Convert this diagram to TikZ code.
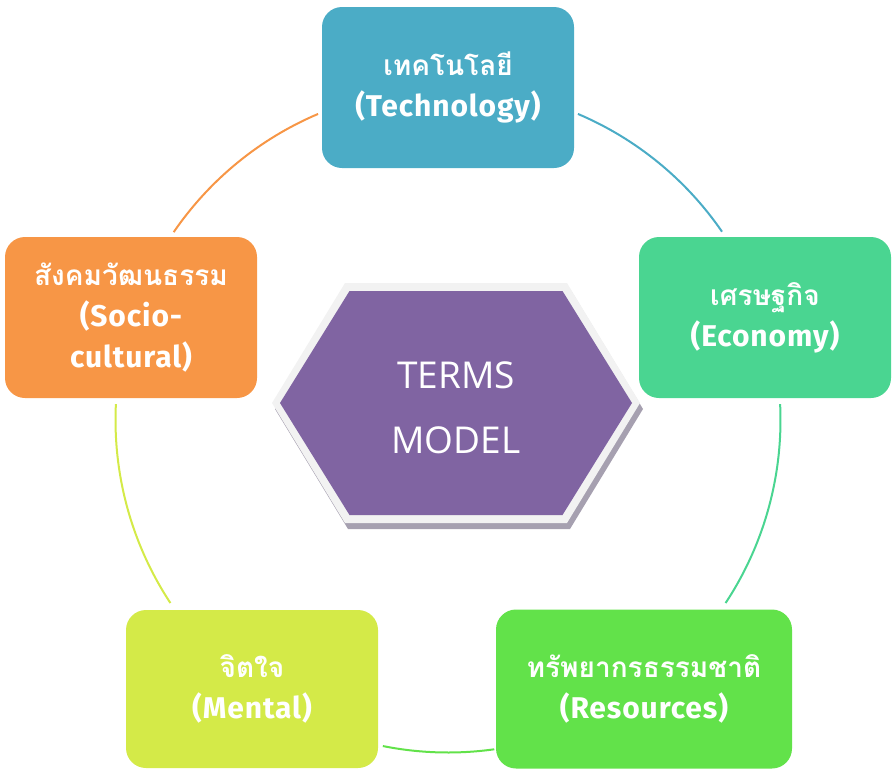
\documentclass[tikz,border=0pt]{standalone}
\usepackage{fontspec}
\usetikzlibrary{calc}
\newfontfamily\thaifont[Script=Thai]{Loma}
\newfontfamily\latfont[LetterSpace=3]{Fira Sans}
\newfontfamily\ctrfont{Open Sans}
\definecolor{ctech}{RGB}{75,172,198}
\definecolor{cecon}{RGB}{74,213,145}
\definecolor{cres}{RGB}{98,226,74}
\definecolor{cment}{RGB}{212,234,72}
\definecolor{csoc}{RGB}{247,150,70}
\definecolor{cpurple}{RGB}{128,100,162}
\definecolor{cband}{RGB}{242,242,242}
\definecolor{cshadow}{RGB}{166,160,176}
\newcommand{\thtxt}[1]{{\thaifont\bfseries\fontsize{28}{41}\selectfont #1}}
\newcommand{\latxt}[1]{{\latfont\bfseries\fontsize{30}{41}\selectfont #1}}
\tikzset{
  box/.style={rounded corners=20pt, minimum height=160pt, inner sep=0pt, align=center,
    text=white, font=\fontsize{27}{41}\selectfont},
  ring/.style={line width=2pt},
}
\begin{document}
\begin{tikzpicture}[x=1pt,y=-1pt]
\useasboundingbox (0,0) rectangle (894,769);
\coordinate (o) at (448,420);
\def\R{332.5}
% ring arcs
\draw[ring, ctech] (o) ++(-67:\R) arc[start angle=-67, end angle=-34.5, radius=\R];
\draw[ring, cecon] (o) ++(-2.75:\R) arc[start angle=-2.75, end angle=33.4, radius=\R];
\draw[ring, cres]  (o) ++(82:\R) arc[start angle=82, end angle=101.3, radius=\R];
\draw[ring, cment] (o) ++(146.6:\R) arc[start angle=146.6, end angle=182.75, radius=\R];
\draw[ring, csoc]  (o) ++(214.4:\R) arc[start angle=214.4, end angle=247, radius=\R];
% boxes
\node[box, fill=ctech, minimum width=252pt, minimum height=161pt] (tech) at (448,87.5) {\thtxt{เทคโนโลยี}\\\latxt{(Technology)}};
\node[box, fill=cecon, minimum width=252pt, minimum height=161pt] (econ) at (765,317.5) {\thtxt{เศรษฐกิจ}\\\latxt{(Economy)}};
\node[box, fill=cres,  minimum width=296pt, minimum height=159pt] (res) at (644,689) {\thtxt{ทรัพยากรธรรมชาติ}\\\latxt{(Resources)}};
\node[box, fill=cment, minimum width=252pt, minimum height=158pt] (ment) at (252,689) {\thtxt{จิตใจ}\\\latxt{(Mental)}};
\node[box, fill=csoc,  minimum width=252pt, minimum height=161pt] (soc) at (131,317.5) {\thtxt{สังคมวัฒนธรรม}\\\latxt{(Socio-}\\\latxt{cultural)}};
% central hexagon
\coordinate (hc) at (456,403);
\fill[cshadow] ($(hc)+(3,6)$) ++(-184,0) -- ++(73,-120) -- ++(222,0) -- ++(73,120) -- ++(-73,120) -- ++(-222,0) -- cycle;
\fill[cband] (hc) ++(-184,0) -- ++(73,-120) -- ++(222,0) -- ++(73,120) -- ++(-73,120) -- ++(-222,0) -- cycle;
\fill[cpurple] (hc) ++(-176,0) -- ++(69.5,-112) -- ++(213,0) -- ++(69.5,112) -- ++(-69.5,112) -- ++(-213,0) -- cycle;
\node[text=white, align=center, font=\ctrfont\fontsize{37}{65}\selectfont] (terms) at ($(hc)+(0,4.5)$) {TERMS\\MODEL};
\end{tikzpicture}
\end{document}
